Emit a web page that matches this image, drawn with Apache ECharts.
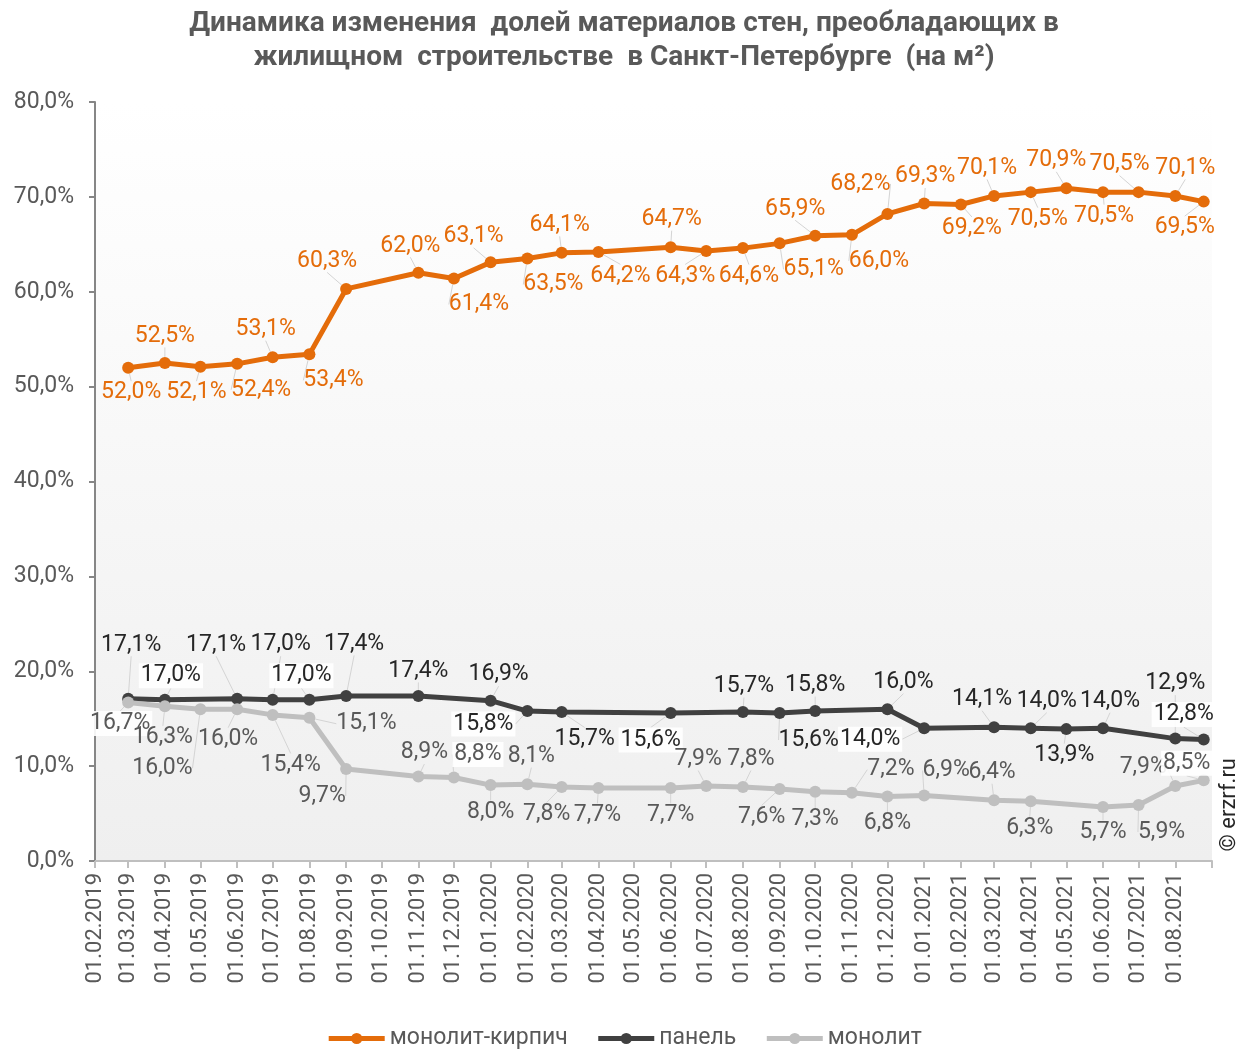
<!DOCTYPE html>
<html>
<head>
<meta charset="utf-8">
<script src="https://cdn.jsdelivr.net/npm/echarts@6/dist/echarts.min.js"></script>
<style>
  html, body { margin: 0; padding: 0; background: #fff; }
  #chart { width: 1248px; height: 1049px; }
</style>
</head>
<body>
<div id="chart"></div>
<script>
var dates = [
  '2019-03-01', '2019-04-01', '2019-05-01', '2019-06-01', '2019-07-01', '2019-08-01',
  '2019-09-01', '2019-10-01', '2019-11-01', '2019-12-01', '2020-01-01', '2020-02-01',
  '2020-03-01', '2020-04-01', '2020-05-01', '2020-06-01', '2020-07-01', '2020-08-01',
  '2020-09-01', '2020-10-01', '2020-11-01', '2020-12-01', '2021-01-01', '2021-02-01',
  '2021-03-01', '2021-04-01', '2021-05-01', '2021-06-01', '2021-07-01', '2021-08-01',
  '2021-08-25'
];

var monolitKirpich = [52.0, 52.5, 52.1, 52.4, 53.1, 53.4, 60.3, null, 62.0, 61.4, 63.1, 63.5,
  64.1, 64.2, null, 64.7, 64.3, 64.6, 65.1, 65.9, 66.0, 68.2, 69.3, 69.2,
  70.1, 70.5, 70.9, 70.5, 70.5, 70.1, 69.5];

var panel = [17.1, 17.0, null, 17.1, 17.0, 17.0, 17.4, null, 17.4, null, 16.9, 15.8,
  15.7, null, null, 15.6, null, 15.7, 15.6, 15.8, null, 16.0, 14.0, null,
  14.1, 14.0, 13.9, 14.0, null, 12.9, 12.8];

var monolit = [16.7, 16.3, 16.0, 16.0, 15.4, 15.1, 9.7, null, 8.9, 8.8, 8.0, 8.1,
  7.8, 7.7, null, 7.7, 7.9, 7.8, 7.6, 7.3, 7.2, 6.8, 6.9, null,
  6.4, 6.3, null, 5.7, 5.9, 7.9, 8.5];

// label placement (dx, dy from the point, 1 = white box)
var kirpichLabelPos = [[3, 25], [0, -27], [-4, 26], [24, 26], [-7, -28], [24, 26], [-19, -28], null,
  [-8, -27], [25, 26], [-17, -26], [26, 26], [-2, -28], [22, 24], null, [1, -28], [-21, 25],
  [6, 28], [34, 26], [-20, -27], [27, 26], [-27, -30], [1, -27], [11, 24], [-7, -28], [7, 27],
  [-10, -28], [1, 24], [-19, -28], [10, -28], [-19, 26]];

var panelLabelPos = [[3, -54], [6, -24, 1], null, [-21, -54], [8, -55], [-8, -24, 1], [8, -52], null,
  [0, -25], null, [8, -26], [-44, 13, 1], [23, 27], null, null, [-20, 27, 1], null,
  [1, -26], [29, 27], [0, -26], null, [16, -27], [-54, 11, 1], null, [-12, -28], [16, -27],
  [-2, 26], [7, -27], null, [0, -55], [-20, -25, 1]];

var monolitLabelPos = [[-8, 21, 1], [-2, 31], [-38, 59], [-9, 30], [18, 50], [57, 6], [-24, 27], null,
  [6, -24], [24, -23, 1], [0, 27], [4, -28], [-15, 27], [-1, 27], null, [0, 27], [-8, -27],
  [8, -28], [-18, 28], [0, 28], [39, -23], [0, 27], [22, -25], null, [-2, -28], [-1, 27],
  null, [0, 25], [23, 27], [-32, -19], [-17, -17, 1]];

function pct(v) {
  return v.toFixed(1).replace('.', ',') + '%';
}

function buildSeries(name, values, labelPos, color, labelColor) {
  var data = [];
  var offs = [];
  values.forEach(function (v, i) {
    if (v === null) return;
    var o = labelPos[i] || [0, -26];
    var item = { value: [dates[i], v] };
    if (o[2]) {
      item.label = { backgroundColor: 'rgba(255,255,255,0.9)', padding: [1, 2] };
    }
    data.push(item);
    offs.push(o);
  });
  return {
    name: name,
    type: 'line',
    data: data,
    symbol: 'circle',
    symbolSize: 12,
    showAllSymbol: true,
    lineStyle: { color: color, width: 5 },
    itemStyle: { color: color },
    label: {
      show: true,
      position: 'inside',
      color: labelColor,
      fontSize: 23,
      fontFamily: 'Roboto',
      formatter: function (p) { return pct(p.value[1]); }
    },
    labelLine: {
      show: true,
      lineStyle: { color: '#d4d4d4', width: 1 }
    },
    labelLayout: function (p) {
      var o = offs[p.dataIndex];
      return { dx: o[0], dy: o[1] };
    }
  };
}

var chartDom = document.getElementById('chart');
var myChart = echarts.init(chartDom);
var option;

option = {
  backgroundColor: '#ffffff',
  animation: false,
  textStyle: { fontFamily: 'Roboto' },
  title: {
    text: 'Динамика изменения  долей материалов стен, преобладающих в\nжилищном  строительстве  в Санкт-Петербурге  (на м²)',
    left: 'center',
    top: 2,
    textStyle: {
      color: '#595959',
      fontSize: 28,
      fontWeight: 'bold',
      lineHeight: 34
    }
  },
  legend: {
    top: 1022,
    left: 'center',
    itemWidth: 56,
    itemHeight: 14,
    itemGap: 28,
    lineStyle: { width: 5 },
    textStyle: { color: '#595959', fontSize: 23 },
    data: ['монолит-кирпич', 'панель', 'монолит']
  },
  grid: {
    left: 95,
    right: 36,
    top: 102,
    bottom: 188,
    show: true,
    borderWidth: 0,
    backgroundColor: {
      type: 'linear', x: 0, y: 0, x2: 0, y2: 1,
      colorStops: [
        { offset: 0, color: '#ffffff' },
        { offset: 1, color: '#efefef' }
      ]
    }
  },
  xAxis: {
    type: 'time',
    min: '2019-02-01',
    max: '2021-09-01',
    minInterval: 28 * 24 * 3600 * 1000,
    maxInterval: 31 * 24 * 3600 * 1000,
    splitNumber: 31,
    axisLine: { lineStyle: { color: '#bfbfbf', width: 2 } },
    axisTick: { show: true, length: 7, lineStyle: { color: '#bfbfbf', width: 2 } },
    splitLine: { show: false },
    axisLabel: {
      rotate: 90,
      fontSize: 22,
      color: '#595959',
      margin: 12,
      showMaxLabel: false,
      formatter: function (value) {
        if (value >= +new Date(2021, 8, 1)) return '';
        return echarts.time.format(value, '{dd}.{MM}.{yyyy}', false);
      }
    }
  },
  yAxis: {
    type: 'value',
    min: 0,
    max: 80,
    interval: 10,
    axisLine: { show: true, lineStyle: { color: '#868686', width: 2 } },
    axisTick: { show: true, length: 6, lineStyle: { color: '#868686', width: 2 } },
    splitLine: { show: false },
    axisLabel: {
      fontSize: 23,
      color: '#595959',
      margin: 21,
      formatter: function (v) { return pct(v); }
    }
  },
  graphic: [
    {
      type: 'text',
      left: 1218,
      top: 758,
      rotation: Math.PI / 2,
      style: { text: '© erzrf.ru', fill: '#262626', font: '22px Roboto' }
    }
  ],
  series: [
    buildSeries('монолит-кирпич', monolitKirpich, kirpichLabelPos, '#e46c0a', '#e46c0a'),
    buildSeries('панель', panel, panelLabelPos, '#404040', '#262626'),
    buildSeries('монолит', monolit, monolitLabelPos, '#bfbfbf', '#595959')
  ]
};

option && myChart.setOption(option);

window.addEventListener('resize', function () {
  myChart.resize();
});
</script>
</body>
</html>
